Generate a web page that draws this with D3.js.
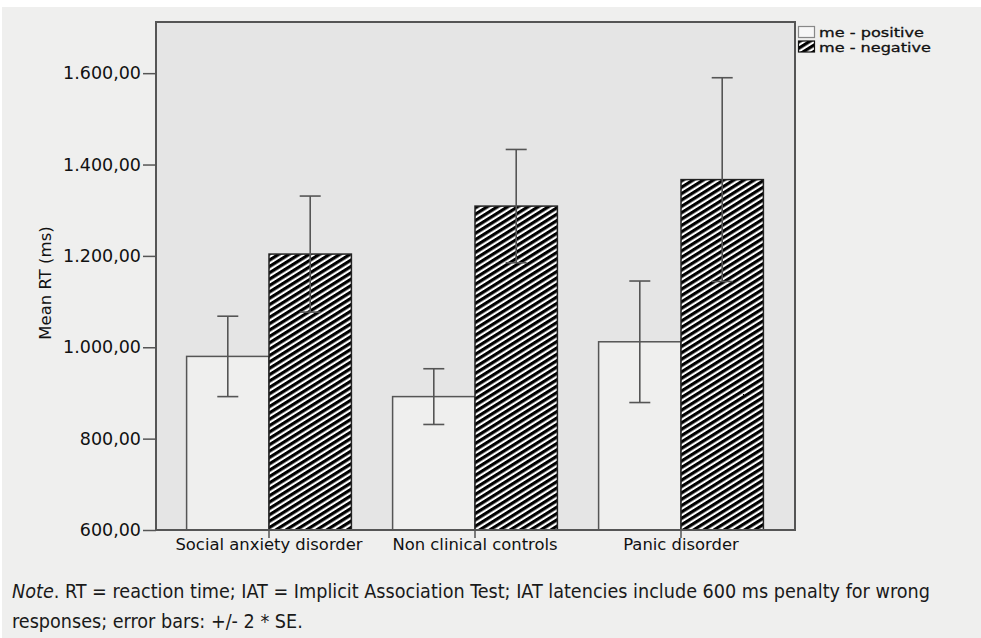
<!DOCTYPE html>
<html>
<head>
<meta charset="utf-8">
<script src="https://cdnjs.cloudflare.com/ajax/libs/d3/7.8.5/d3.min.js"></script>
<style>
  body { margin: 0; background: #ffffff; }
  svg { display: block; }
</style>
</head>
<body>
<div id="chart"></div>
<script>
// data
const groups = ['Social anxiety disorder', 'Non clinical controls', 'Panic disorder'];
const seriesNames = ['me - positive', 'me - negative'];
const positiveMean = [980, 892, 1012];
const positiveErr = [88, 61, 133];
const negativeMean = [1204, 1309, 1367];
const negativeErr = [127, 124, 223];
const yTicks = [600, 800, 1000, 1200, 1400, 1600];
const noteLines = [
    'RT = reaction time; IAT = Implicit Association Test; IAT latencies include 600 ms penalty for wrong',
    'responses; error bars: +/- 2 * SE.'
];

const W = 981, H = 638;
const plot = { left: 156, right: 795, top: 22, bottom: 530 };
const frameColor = '#555555';
const font = '"DejaVu Sans", sans-serif';

const svg = d3.select('#chart')
    .append('svg')
    .attr('width', W)
    .attr('height', H)
    .style('font-family', font);

// hatch pattern for the negative series (stripes rising to the right, ~30deg)
const defs = svg.append('defs');
const hatch = defs.append('pattern')
    .attr('id', 'hatch')
    .attr('patternUnits', 'userSpaceOnUse')
    .attr('width', 5.4)
    .attr('height', 10)
    .attr('patternTransform', 'rotate(58)');
hatch.append('rect').attr('width', 5.4).attr('height', 10).attr('fill', '#ffffff');
hatch.append('rect').attr('width', 3.2).attr('height', 10).attr('fill', '#000000');

// page background
svg.append('rect').attr('x', 2).attr('y', 7).attr('width', W - 2).attr('height', H - 7).attr('fill', '#efefee');

// plot background
svg.append('rect')
    .attr('x', plot.left).attr('y', plot.top)
    .attr('width', plot.right - plot.left).attr('height', plot.bottom - plot.top)
    .attr('fill', '#e5e5e5');

const y = d3.scaleLinear().domain([600, 1712]).range([plot.bottom, plot.top]);
const x0 = d3.scaleBand().domain(groups).range([166, 784]).paddingInner(0.2).paddingOuter(0.1);
const x1 = d3.scaleBand().domain(seriesNames).range([0, x0.bandwidth()]);

const rows = groups.map((g, i) => [
    { group: g, series: seriesNames[0], mean: positiveMean[i], err: positiveErr[i] },
    { group: g, series: seriesNames[1], mean: negativeMean[i], err: negativeErr[i] }
]).flat();

const cx = d => x0(d.group) + x1(d.series) + x1.bandwidth() / 2;

// bars
svg.selectAll('rect.bar')
    .data(rows)
    .join('rect')
    .classed('bar', true)
    .attr('x', d => x0(d.group) + x1(d.series))
    .attr('y', d => y(d.mean))
    .attr('width', x1.bandwidth())
    .attr('height', d => y(600) - y(d.mean))
    .attr('fill', d => d.series === seriesNames[0] ? '#efefee' : 'url(#hatch)')
    .attr('stroke', d => d.series === seriesNames[0] ? frameColor : '#222222')
    .attr('stroke-width', 1.5);

// error bars
const cap = 10.5;
const eb = svg.selectAll('g.err')
    .data(rows)
    .join('g')
    .classed('err', true)
    .attr('stroke', '#555555')
    .attr('stroke-width', 1.6);
eb.append('line')
    .attr('x1', cx)
    .attr('x2', cx)
    .attr('y1', d => y(d.mean + d.err))
    .attr('y2', d => y(d.mean - d.err));
eb.selectAll('line.cap')
    .data(d => [d.mean + d.err, d.mean - d.err].map(v => ({ v, c: cx(d) })))
    .join('line')
    .classed('cap', true)
    .attr('x1', d => d.c - cap)
    .attr('x2', d => d.c + cap)
    .attr('y1', d => y(d.v))
    .attr('y2', d => y(d.v));

// plot frame
svg.append('rect')
    .attr('x', plot.left).attr('y', plot.top)
    .attr('width', plot.right - plot.left).attr('height', plot.bottom - plot.top)
    .attr('fill', 'none')
    .attr('stroke', frameColor)
    .attr('stroke-width', 2);

// y axis
const yAxis = svg.append('g')
    .attr('transform', `translate(${plot.left},0)`)
    .call(d3.axisLeft(y).tickValues(yTicks).tickSize(13).tickPadding(2)
        .tickFormat(d => d3.format(',.2f')(d).replace(/,/g, '#').replace('.', ',').replace(/#/g, '.')));
yAxis.select('.domain').remove();
yAxis.selectAll('line').attr('stroke', frameColor).attr('stroke-width', 1.5);
yAxis.selectAll('text').attr('fill', '#111').style('font-size', '17.5px').style('font-family', font);

// x axis
const xAxis = svg.append('g')
    .attr('transform', `translate(0,${plot.bottom})`)
    .call(d3.axisBottom(x0).tickSize(8).tickPadding(0));
xAxis.select('.domain').remove();
xAxis.selectAll('line').attr('stroke', frameColor).attr('stroke-width', 1.5);
xAxis.selectAll('text').attr('fill', '#111').style('font-size', '16.4px').style('font-family', font);

// y axis title
svg.append('text')
    .attr('transform', `translate(51,283) rotate(-90)`)
    .attr('text-anchor', 'middle')
    .attr('fill', '#111')
    .style('font-size', '16.5px')
    .text('Mean RT (ms)');

// legend
const legend = svg.append('g').attr('transform', `translate(${plot.right + 3},26)`);
seriesNames.forEach((s, i) => {
    const g = legend.append('g').attr('transform', `translate(0,${i * 14.5})`);
    g.append('rect')
        .attr('x', 0.5).attr('y', 0.5).attr('width', 16).attr('height', 11)
        .attr('fill', i === 0 ? '#f7f7f7' : 'url(#hatch)')
        .attr('stroke', i === 0 ? '#888' : '#111')
        .attr('stroke-width', 1.2);
    const t = g.append('text')
        .attr('x', 0).attr('y', 11)
        .attr('fill', '#111')
        .attr('stroke', '#111')
        .attr('stroke-width', 0.3)
        .style('font-size', '12.5px')
        .text(s);
    // the reference face is wider than it is tall
    const kx = (i === 0 ? 105 : 112) / t.node().getComputedTextLength();
    t.attr('transform', `translate(21,0) scale(${kx},1)`);
});

// note, squeezed horizontally to the reference's narrow face
const note = svg.append('g')
    .style('font-family', '"DejaVu Sans Condensed", "DejaVu Sans", sans-serif')
    .style('font-size', '20px')
    .attr('fill', '#1a1a1a');
const line1 = note.append('text').attr('x', 0).attr('y', 598);
line1.append('tspan').style('font-style', 'italic').text('Note');
line1.append('tspan').text('. ' + noteLines[0]);
note.append('text').attr('x', 0).attr('y', 628).text(noteLines[1]);
const k = 918 / line1.node().getComputedTextLength();
note.attr('transform', `translate(12,0) scale(${k},1)`);
</script>
</body>
</html>
